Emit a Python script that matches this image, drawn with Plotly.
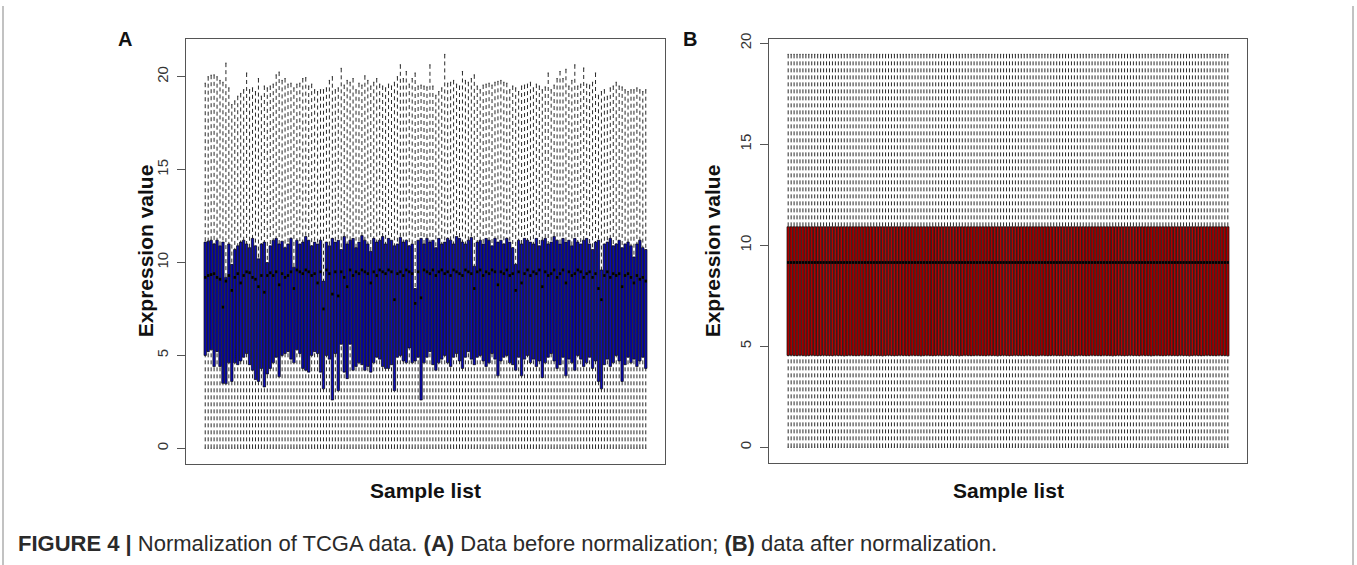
import plotly.graph_objects as go

W, H = 1357, 565

# ---------------- data: panel A (before normalization) ----------------
before_upper = [
    19.65, 20.0, 20.08, 20.1, 20.0, 19.8, 19.7, 20.73, 19.4, 18.5,
    18.7, 18.95, 19.1, 19.3, 20.2, 19.3, 19.4, 19.2, 19.9, 18.95,
    19.5, 19.4, 19.5, 19.6, 20.1, 20.25, 19.8, 19.9, 19.6, 19.65,
    19.4, 19.6, 19.65, 19.9, 19.95, 19.5, 19.6, 19.3, 19.2, 19.3,
    19.3, 19.4, 19.8, 20.0, 19.3, 19.4, 20.45, 19.55, 19.8, 19.7,
    19.9, 19.3, 19.65, 19.55, 20.05, 19.8, 19.5, 19.7, 19.9, 19.6,
    19.5, 19.4, 19.6, 19.5, 19.7, 20.0, 20.64, 19.9, 20.28, 19.6,
    19.9, 20.2, 19.5, 19.55, 19.5, 19.45, 20.64, 19.5, 19.0, 19.2,
    19.4, 21.2, 19.65, 19.7, 19.8, 19.6, 19.5, 20.28, 19.8, 19.7,
    19.9, 20.1, 19.5, 19.3, 19.55, 19.6, 19.65, 19.55, 19.7, 19.75,
    19.8, 19.7, 19.65, 19.3, 19.5, 19.4, 19.2, 19.5, 19.55, 19.6,
    19.7, 19.4, 19.6, 19.5, 19.3, 19.45, 20.2, 19.3, 19.55, 19.9,
    20.28, 19.9, 20.4, 19.5, 19.8, 20.64, 19.5, 19.6, 20.47, 19.6,
    19.55, 19.7, 20.2, 19.0, 19.2, 19.3, 18.95, 19.4, 19.5, 19.7,
    19.5, 19.45, 19.3, 19.2, 19.3, 19.3, 19.4, 19.3, 19.2, 19.3,
]
before_q3 = [
    11.1, 11.15, 11.2, 11.0, 11.2, 10.9, 11.1, 9.2, 11.0, 9.9,
    10.7, 10.9, 11.1, 11.2, 11.0, 10.8, 11.3, 10.9, 10.2, 11.0,
    11.1, 10.0, 10.9, 11.2, 11.3, 11.0, 11.15, 10.8, 11.0, 11.3,
    9.75, 11.2, 11.0, 11.1, 11.4, 11.2, 10.9, 11.1, 11.0, 11.2,
    9.0, 11.1, 10.9, 11.3, 11.1, 11.2, 10.7, 11.4, 11.0, 11.2,
    11.3, 10.8, 11.1, 11.45, 11.2, 11.0, 10.6, 11.3, 11.1, 11.2,
    11.4, 11.0, 11.3, 11.2, 10.9, 11.0, 11.35, 11.1, 11.2, 10.9,
    11.0, 8.6, 11.2, 11.3, 11.0, 11.3, 11.1, 11.2, 10.8, 11.3,
    11.0, 11.1, 11.3, 11.2, 11.0, 11.4, 11.3, 11.1, 11.0, 11.2,
    11.35, 9.8, 11.1, 11.2, 11.0, 11.3, 11.2, 10.9, 11.3, 11.1,
    11.2, 11.0, 11.3, 11.1, 10.8, 9.9, 11.2, 11.0, 11.3, 11.2,
    11.1, 11.0, 11.3, 10.9, 11.2, 11.3, 11.0, 11.1, 11.4, 11.2,
    11.0, 11.3, 11.1, 11.2, 10.9, 11.3, 11.1, 11.0, 11.2, 11.3,
    11.0, 10.7, 11.1, 11.2, 9.6, 11.0, 11.1, 11.3, 10.9, 11.0,
    11.2, 10.8, 11.0, 11.1, 10.9, 10.3, 11.0, 11.2, 10.8, 10.7,
]
before_median = [
    9.2, 9.3, 9.35, 9.4, 9.2, 9.1, 7.6, 9.0, 9.3, 8.5,
    9.2, 9.4, 8.9, 9.3, 9.5, 9.45, 9.2, 9.1, 8.7, 9.3,
    8.4, 9.3, 9.45, 9.3, 9.5, 8.8, 9.4, 9.2, 9.3, 9.5,
    8.6, 9.6, 9.5, 9.4, 9.6, 9.5, 9.3, 9.4, 8.9, 9.5,
    7.5, 9.6, 9.4, 8.3, 9.5, 8.2, 9.5, 9.2, 8.7, 9.6,
    9.3, 9.5, 9.4, 9.6, 9.5, 9.4, 8.9, 9.5, 9.3, 9.6,
    9.5, 9.4, 9.6, 9.5, 8.0, 9.4, 9.5, 9.3, 9.6, 9.5,
    9.4, 7.8, 9.5, 8.1, 9.6, 9.5, 9.4, 9.6, 9.3, 9.5,
    9.6, 9.4, 9.5, 9.3, 9.6, 9.5, 9.4, 9.3, 9.6, 9.5,
    9.4, 8.6, 9.5, 9.6, 9.3, 9.5, 9.4, 9.6, 9.5, 8.8,
    9.5, 9.4, 9.6, 9.3, 9.4, 8.5, 9.5, 8.9, 9.4, 9.6,
    9.3, 9.5, 9.4, 9.6, 8.7, 9.5, 9.3, 9.4, 9.6, 9.2,
    9.4, 9.6, 8.9, 9.5, 9.3, 9.4, 9.6, 9.5, 9.2, 9.4,
    9.5, 9.2, 9.4, 8.6, 8.0, 9.3, 9.5, 9.2, 9.4, 9.3,
    9.4, 8.7, 9.3, 9.4, 9.2, 8.9, 9.3, 9.1, 9.2, 9.0,
]
before_q1 = [
    5.0, 5.2, 5.3, 4.4, 5.2, 4.4, 3.5, 3.47, 4.6, 3.6,
    4.6, 4.5, 4.7, 4.9, 5.1, 4.5, 4.2, 3.7, 3.6, 4.3,
    3.3, 4.0, 4.3, 4.6, 4.9, 3.85, 5.0, 5.1, 5.2, 4.8,
    4.6, 5.3, 5.1, 4.3, 4.2, 4.1, 5.0, 5.2, 5.1, 4.1,
    3.2, 5.0, 4.8, 2.6, 5.1, 3.1, 5.6, 4.1, 3.75, 5.6,
    4.2, 4.4, 4.6, 4.5, 4.2, 4.4, 4.1, 4.6, 4.9, 4.8,
    4.4, 4.3, 4.3, 4.5, 3.1, 4.9, 5.0, 4.7, 4.6, 5.4,
    4.6, 4.7, 4.9, 2.6, 4.6, 4.9, 5.2, 4.5, 4.2, 4.6,
    4.8, 5.0, 4.6, 4.4, 4.9, 5.1, 4.7, 4.3, 4.9, 5.2,
    4.8, 4.5, 4.9, 5.0, 4.7, 4.4, 4.6, 5.1, 4.8, 3.9,
    4.7, 4.9, 5.0, 4.6, 4.5, 4.2, 4.9, 3.9, 4.8, 5.0,
    4.6, 4.8, 4.4, 4.7, 3.8, 4.6, 4.9, 5.1, 4.7, 4.3,
    4.5, 4.9, 3.9, 4.8, 4.6, 4.2, 5.0, 4.8, 4.4, 4.6,
    4.9, 4.3, 4.7, 3.6, 3.2, 4.5, 4.8, 4.4, 4.6, 5.0,
    4.7, 3.6, 4.5, 4.9, 4.6, 4.8, 4.4, 4.7, 4.9, 4.3,
]
N = len(before_q1)
before_lower = [0.0] * N

# ---------------- data: panel B (after normalization) ----------------
after_upper = [19.45] * N
after_q3 = [10.92] * N
after_median = [9.15] * N
after_q1 = [
    4.55, 4.56, 4.55, 4.54, 4.56, 4.55, 4.53, 4.55, 4.56, 4.55,
    4.54, 4.55, 4.56, 4.55, 4.55, 4.54, 4.56, 4.55, 4.55, 4.53,
    4.55, 4.56, 4.55, 4.54, 4.55, 4.56, 4.55, 4.55, 4.54, 4.56,
    4.55, 4.55, 4.53, 4.55, 4.56, 4.55, 4.54, 4.55, 4.56, 4.55,
    4.55, 4.54, 4.56, 4.55, 4.55, 4.53, 4.55, 4.56, 4.55, 4.54,
    4.55, 4.56, 4.55, 4.55, 4.54, 4.56, 4.55, 4.55, 4.53, 4.55,
    4.56, 4.55, 4.54, 4.55, 4.56, 4.55, 4.55, 4.54, 4.56, 4.55,
    4.55, 4.53, 4.55, 4.56, 4.55, 4.54, 4.55, 4.56, 4.55, 4.55,
    4.54, 4.56, 4.55, 4.55, 4.53, 4.55, 4.56, 4.55, 4.54, 4.55,
    4.56, 4.55, 4.55, 4.54, 4.56, 4.55, 4.55, 4.53, 4.55, 4.56,
    4.55, 4.54, 4.55, 4.56, 4.55, 4.55, 4.54, 4.56, 4.55, 4.55,
    4.53, 4.55, 4.56, 4.55, 4.54, 4.55, 4.56, 4.55, 4.55, 4.54,
    4.56, 4.55, 4.55, 4.53, 4.55, 4.56, 4.55, 4.54, 4.55, 4.56,
    4.55, 4.55, 4.54, 4.56, 4.55, 4.55, 4.53, 4.55, 4.56, 4.55,
    4.54, 4.55, 4.56, 4.55, 4.55, 4.54, 4.56, 4.55, 4.55, 4.53,
]
after_lower = [0.0] * N

y_ticks = [0, 5, 10, 15, 20]
y_tick_labels = ["0", "5", "10", "15", "20"]

samples = list(range(1, N + 1))

BOX_W = 0.8
STAPLE_HALF = 0.2
WHISK_COLOR = "#2a2a2a"
FONT = "Liberation Sans, Arial, sans-serif"


def add_panel(fig, xa, ya, lower, q1, med, q3, upper, fill):
    # whiskers (dashed), drawn from the whisker end toward the box
    wx, wy = [], []
    for i, s in enumerate(samples):
        wx += [s, s, None, s, s, None]
        wy += [lower[i], q1[i], None, upper[i], q3[i], None]
    fig.add_trace(go.Scatter(x=wx, y=wy, mode="lines", xaxis=xa, yaxis=ya,
                             line=dict(color=WHISK_COLOR, width=1, dash="4px,3px"),
                             hoverinfo="skip", showlegend=False))
    # staples
    sx, sy = [], []
    for i, s in enumerate(samples):
        sx += [s - STAPLE_HALF, s + STAPLE_HALF, None, s - STAPLE_HALF, s + STAPLE_HALF, None]
        sy += [lower[i], lower[i], None, upper[i], upper[i], None]
    fig.add_trace(go.Scatter(x=sx, y=sy, mode="lines", xaxis=xa, yaxis=ya,
                             line=dict(color=WHISK_COLOR, width=1),
                             hoverinfo="skip", showlegend=False))
    # boxes (closed polygons, anti-aliased)
    bx, by = [], []
    h = BOX_W / 2
    for i, s in enumerate(samples):
        bx += [s - h, s + h, s + h, s - h, s - h, None]
        by += [q1[i], q1[i], q3[i], q3[i], q1[i], None]
    fig.add_trace(go.Scatter(x=bx, y=by, mode="lines", fill="toself", fillcolor=fill,
                             xaxis=xa, yaxis=ya,
                             line=dict(color="#000000", width=0.7),
                             hoverinfo="skip", showlegend=False))
    # medians
    mx, my = [], []
    for i, s in enumerate(samples):
        mx += [s - h, s + h, None]
        my += [med[i], med[i], None]
    fig.add_trace(go.Scatter(x=mx, y=my, mode="lines", xaxis=xa, yaxis=ya,
                             line=dict(color="#000000", width=2.8),
                             hoverinfo="skip", showlegend=False))


fig = go.Figure()
add_panel(fig, "x", "y", before_lower, before_q1, before_median, before_q3, before_upper, "#0a0ab8")
add_panel(fig, "x2", "y2", after_lower, after_q1, after_median, after_q3, after_upper, "#bb0000")


def px_x(p):
    return p / W


def px_y(p):
    return 1 - p / H


def yrange(vals):
    hi = max(vals)
    pad = 0.04 * hi
    return [-pad, hi + pad]


xr = [0.5 - 0.04 * N, N + 0.5 + 0.04 * N]

axis_common = dict(showgrid=False, zeroline=False, showline=True, mirror=True,
                   linecolor="#555555", linewidth=1.3)
yaxis_ticks = dict(tickmode="array", tickvals=y_ticks, ticktext=y_tick_labels,
                   ticks="outside", ticklen=8, tickcolor="#555555", tickwidth=1.2,
                   tickangle=-90, tickfont=dict(family=FONT, size=15, color="#333333"),
                   ticklabelstandoff=3)

fig.update_layout(
    width=W, height=H,
    margin=dict(l=0, r=0, t=0, b=0),
    paper_bgcolor="white", plot_bgcolor="white",
    font=dict(family=FONT, color="#222222"),
    xaxis=dict(domain=[px_x(186), px_x(665)], range=xr, showticklabels=False, ticks="",
               anchor="y", **axis_common),
    yaxis=dict(domain=[px_y(463), px_y(33)], range=yrange(before_upper), anchor="x",
               **yaxis_ticks, **axis_common),
    xaxis2=dict(domain=[px_x(769), px_x(1247)], range=xr, showticklabels=False, ticks="",
                anchor="y2", **axis_common),
    yaxis2=dict(domain=[px_y(462), px_y(33)], range=yrange(after_upper), anchor="x2",
                **yaxis_ticks, **axis_common),
)

ann = []
title_font = dict(family=FONT, size=21, color="#111111")
ann.append(dict(text="<b>Expression value</b>", x=px_x(145), y=px_y(248), xref="paper", yref="paper",
                textangle=-90, showarrow=False, font=title_font, xanchor="center", yanchor="middle"))
ann.append(dict(text="<b>Expression value</b>", x=px_x(712), y=px_y(248), xref="paper", yref="paper",
                textangle=-90, showarrow=False, font=title_font, xanchor="center", yanchor="middle"))
ann.append(dict(text="<b>Sample list</b>", x=px_x(425), y=px_y(490), xref="paper", yref="paper",
                showarrow=False, font=title_font, xanchor="center", yanchor="middle"))
ann.append(dict(text="<b>Sample list</b>", x=px_x(1008), y=px_y(490), xref="paper", yref="paper",
                showarrow=False, font=title_font, xanchor="center", yanchor="middle"))
ann.append(dict(text="<b>A</b>", x=px_x(125), y=px_y(33), xref="paper", yref="paper",
                showarrow=False, font=dict(family=FONT, size=20, color="#111111"),
                xanchor="center", yanchor="middle"))
ann.append(dict(text="<b>B</b>", x=px_x(690), y=px_y(33), xref="paper", yref="paper",
                showarrow=False, font=dict(family=FONT, size=20, color="#111111"),
                xanchor="center", yanchor="middle"))
ann.append(dict(text="<b>FIGURE 4 |</b> Normalization of TCGA data. <b>(A)</b> Data before normalization; "
                     "<b>(B)</b> data after normalization.",
                x=px_x(16), y=px_y(543), xref="paper", yref="paper", showarrow=False,
                font=dict(family=FONT, size=22, color="#2a2a2a"),
                xanchor="left", yanchor="middle"))
fig.update_layout(annotations=ann)

fig.add_shape(type="line", xref="paper", yref="paper", x0=px_x(3), x1=px_x(3), y0=0, y1=1,
              line=dict(color="#999999", width=1.2))
fig.add_shape(type="line", xref="paper", yref="paper", x0=px_x(1353), x1=px_x(1353), y0=0, y1=1,
              line=dict(color="#999999", width=1.2))

fig.write_html("out.html")
